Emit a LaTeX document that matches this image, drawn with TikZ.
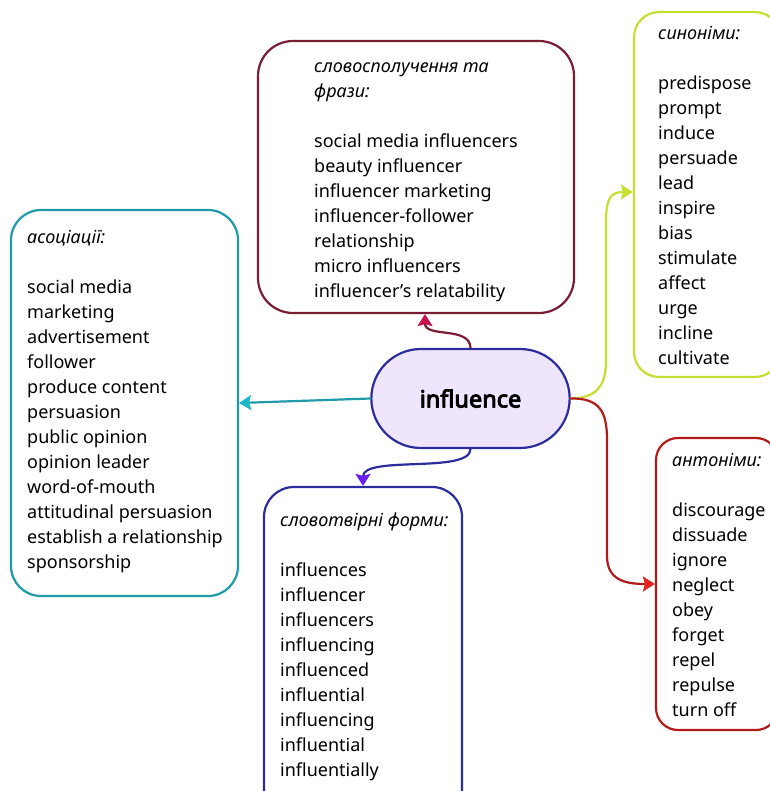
\documentclass[tikz,border=0pt]{standalone}
\usepackage{fontspec}
\setmainfont{Noto Sans}
\newfontfamily\pillfont{Noto Sans}[FakeBold=4]
\usetikzlibrary{arrows.meta,shapes.misc}

\definecolor{wine}{HTML}{7A1C34}
\definecolor{crimson}{HTML}{C8104A}
\definecolor{lime}{HTML}{C6DE30}
\definecolor{teal}{HTML}{1E9AA8}
\definecolor{tealtip}{HTML}{1DB8C8}
\definecolor{navy}{HTML}{2C2C9E}
\definecolor{violet}{HTML}{6B1EF2}
\definecolor{antired}{HTML}{B31B1B}
\definecolor{antitip}{HTML}{E0261E}
\definecolor{lavender}{HTML}{EFE5FC}

\begin{document}
\begin{tikzpicture}[x=1pt,y=-1pt,line join=round,line cap=round,
  box/.style={draw=#1,line width=2.2pt,fill=white,inner sep=0pt},
  list/.style={align=left,anchor=north west,inner sep=0pt,
    font=\fontsize{18}{25}\selectfont,execute at begin node=\strut},
  link/.style={line width=2.2pt},
  tip/.style={-{Stealth[length=12pt,width=15pt,inset=2pt,color=#1]}}]
  \useasboundingbox (0,0) rectangle (769,791);

  % boxes
  \node[box=wine,rounded corners=35pt,minimum width=316pt,minimum height=272pt] (phr) at (416,177) {};
  \node[box=lime,rounded corners=25pt,minimum width=146pt,minimum height=365pt] (syn) at (707,194.5) {};
  \node[box=teal,rounded corners=30pt,minimum width=227pt,minimum height=386pt] (assoc) at (124.5,403) {};
  \node[box=navy,rounded corners=30pt,minimum width=198pt,minimum height=333pt] (forms) at (363,653.5) {};
  \node[box=antired,rounded corners=22pt,minimum width=122pt,minimum height=292pt] (ant) at (717,584) {};
  \node[draw=navy,fill=lavender,line width=2.2pt,rounded rectangle,minimum width=205pt,minimum height=99pt,
    font=\pillfont\fontsize{23.5}{26}\selectfont] (infl) at (470.5,398.5) {influence};

  % texts
  \node[list] (phr-txt) at (314,62.5) {\textit{словосполучення та}\\\textit{фрази:}\\[25pt]
    social media influencers\\beauty influencer\\influencer marketing\\influencer-follower\\
    relationship\\micro influencers\\influencer’s relatability};
  \node[list] (syn-txt) at (658,26.5) {\textit{синоніми:}\\[25pt]
    predispose\\prompt\\induce\\persuade\\lead\\inspire\\bias\\stimulate\\affect\\urge\\incline\\cultivate};
  \node[list] (assoc-txt) at (27,230.5) {\textit{асоціації:}\\[25pt]
    social media\\marketing\\advertisement\\follower\\produce content\\persuasion\\public opinion\\
    opinion leader\\word-of-mouth\\attitudinal persuasion\\establish a relationship\\sponsorship};
  \node[list] (forms-txt) at (280,512.5) {\textit{словотвірні форми:}\\[25pt]
    influences\\influencer\\influencers\\influencing\\influenced\\influential\\influencing\\
    influential\\influentially};
  \node[list] (ant-txt) at (672,453.5) {\textit{антоніми:}\\[25pt]
    discourage\\dissuade\\ignore\\neglect\\obey\\forget\\repel\\repulse\\turn off};

  % connectors
  \draw[link,wine,tip=crimson] (infl.north) .. controls (470,326) and (425,338) .. ([xshift=9pt]phr.south);
  \draw[link,teal,tip=tealtip] (infl.west) -- (assoc.east);
  \draw[link,navy,tip=violet] (infl.south) .. controls (470,474) and (363,455) .. (forms.north);
  \draw[link,lime,tip=lime] (infl.east) .. controls (600,398) and (606,382) .. (606,360)
    -- (606,222) .. controls (606,196) and (612,192) .. ([yshift=2.5pt]syn.west);
  \draw[link,antired,tip=antitip] (infl.east) .. controls (600,398) and (607,412) .. (607,440)
    -- (607,556) .. controls (607,580) and (625,584) .. (ant.west);
\end{tikzpicture}
\end{document}
